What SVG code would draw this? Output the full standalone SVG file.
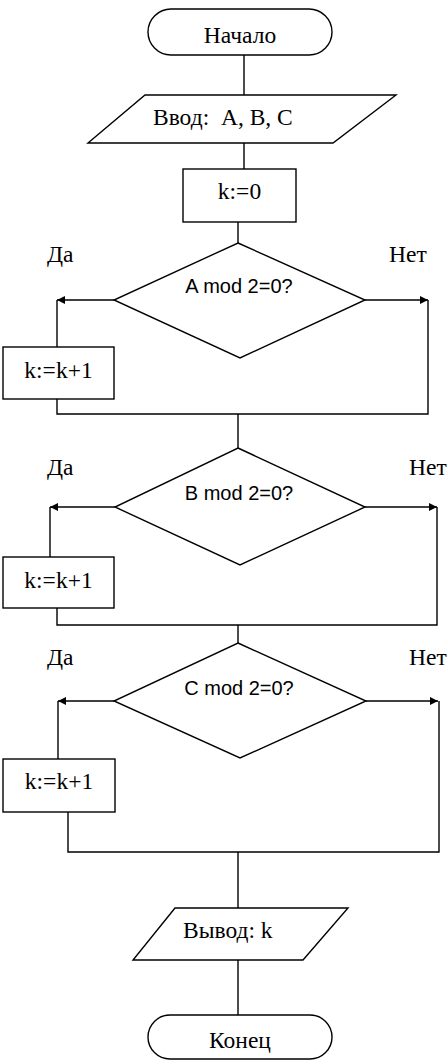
<svg xmlns="http://www.w3.org/2000/svg" width="448" height="1061" viewBox="0 0 448 1061">
<style>
.s{fill:#fff;stroke:#000;stroke-width:1.4}
.c{fill:none;stroke:#000;stroke-width:1.4}
.t{font-family:"Liberation Serif","Times New Roman",serif;font-size:23.5px;fill:#000;white-space:pre}
.a{font-family:"Liberation Sans",Arial,sans-serif;font-size:20px;fill:#000}
.m{text-anchor:middle}
</style>
<defs>
<marker id="ar" viewBox="0 0 10 10" refX="10" refY="5" markerWidth="10" markerHeight="8" markerUnits="userSpaceOnUse" orient="auto">
<path d="M0,0 L10,5 L0,10 z" fill="#000"/>
</marker>
</defs>
<rect width="448" height="1061" fill="#fff"/>
<g id="connectors">
<path class="c" d="M244,55 V95"/>
<path class="c" d="M244,143 V169"/>
<path class="c" d="M238,222 V243"/>
<path class="c" d="M114,300 H57" marker-end="url(#ar)"/>
<path class="c" d="M365,300 H428" marker-end="url(#ar)"/>
<path class="c" d="M57,300 V347"/>
<path class="c" d="M57,399 V414 H428 V300"/>
<path class="c" d="M238,414 V448"/>
<path class="c" d="M115,507 H50" marker-end="url(#ar)"/>
<path class="c" d="M365,507 H437" marker-end="url(#ar)"/>
<path class="c" d="M50,507 V557"/>
<path class="c" d="M57,608 V625 H437 V507"/>
<path class="c" d="M238,625 V643"/>
<path class="c" d="M114,701 H58" marker-end="url(#ar)"/>
<path class="c" d="M366,701 H438" marker-end="url(#ar)"/>
<path class="c" d="M58,701 V759"/>
<path class="c" d="M68,812 V852 H439 V701"/>
<path class="c" d="M238,852 V908"/>
<path class="c" d="M238,960 V1015"/>
</g>
<g id="start">
<rect class="s" x="148" y="9" width="184" height="46" rx="23"/>
<text class="t m" x="240" y="43">Начало</text>
</g>
<g id="input">
<polygon class="s" points="145,95 396,95 333,143 88,143"/>
<text class="t" x="153" y="125" xml:space="preserve">Ввод:  A, B, C</text>
</g>
<g id="init">
<rect class="s" x="183" y="169" width="113" height="53"/>
<text class="t m" x="239.5" y="199">k:=0</text>
</g>
<g id="dec1">
<polygon class="s" points="238,243 365,300 240,358 114,300"/>
<text class="a m" x="239" y="293">A mod 2=0?</text>
<text class="t" x="47" y="262">Да</text>
<text class="t" x="389" y="262">Нет</text>
</g>
<g id="inc1">
<rect class="s" x="3" y="347" width="111" height="52"/>
<text class="t m" x="58.5" y="378">k:=k+1</text>
</g>
<g id="dec2">
<polygon class="s" points="238,448 365,507 240,565 115,507"/>
<text class="a m" x="239" y="500">B mod 2=0?</text>
<text class="t" x="47" y="475">Да</text>
<text class="t" x="409" y="475">Нет</text>
</g>
<g id="inc2">
<rect class="s" x="3" y="557" width="111" height="51"/>
<text class="t m" x="58.5" y="588">k:=k+1</text>
</g>
<g id="dec3">
<polygon class="s" points="238,643 366,701 240,758 114,701"/>
<text class="a m" x="239" y="695">C mod 2=0?</text>
<text class="t" x="47" y="665">Да</text>
<text class="t" x="409" y="665">Нет</text>
</g>
<g id="inc3">
<rect class="s" x="3" y="759" width="112" height="53"/>
<text class="t m" x="59" y="789">k:=k+1</text>
</g>
<g id="output">
<polygon class="s" points="175,908 348,908 303,960 133,960"/>
<text class="t" x="183" y="938">Вывод: k</text>
</g>
<g id="end">
<rect class="s" x="148" y="1015" width="184" height="44" rx="22"/>
<text class="t m" x="240" y="1048">Конец</text>
</g>
</svg>
